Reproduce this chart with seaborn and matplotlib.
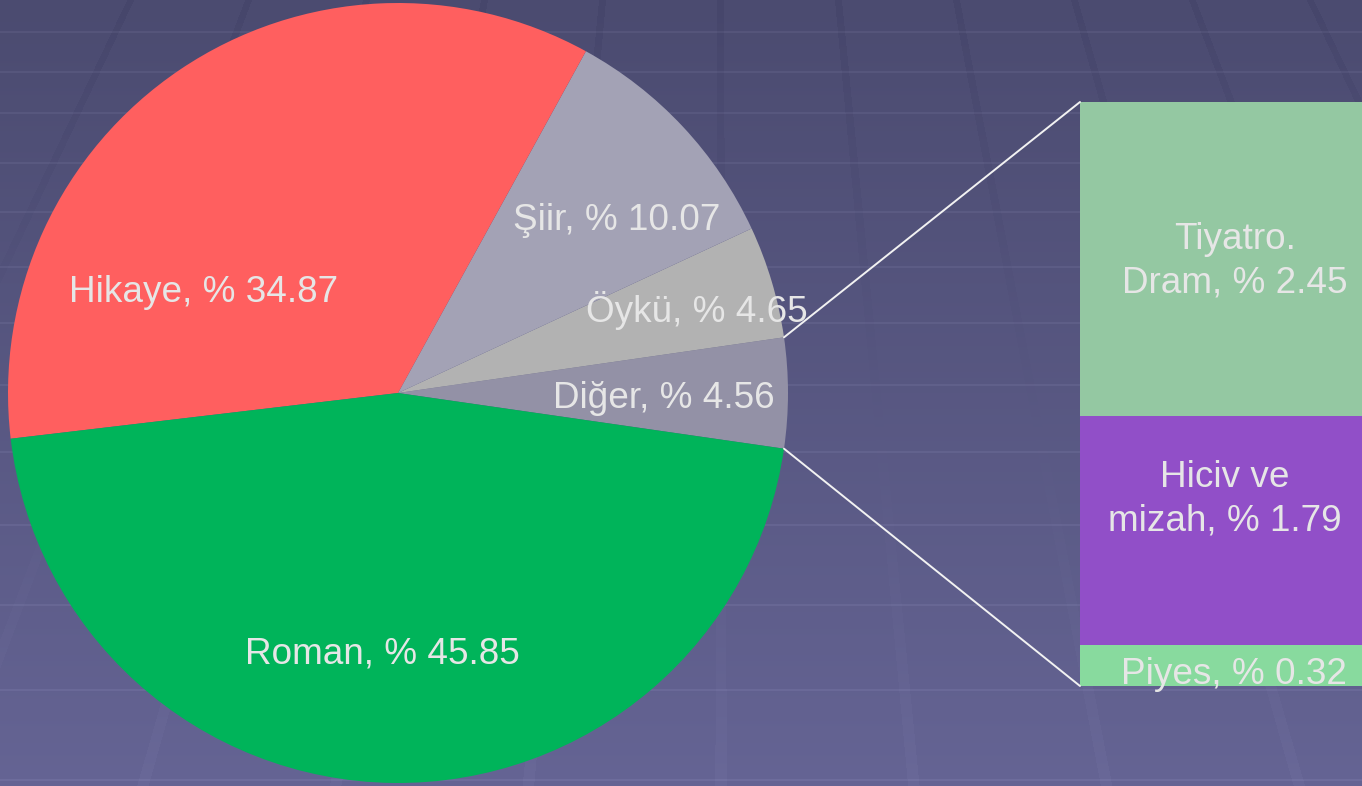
import numpy as np
import matplotlib
matplotlib.use("Agg")
import matplotlib.pyplot as plt
import seaborn as sns

# main pie (counter-clockwise from the right)
pie_names = ["Diğer", "Öykü", "Şiir", "Hikaye", "Roman"]
pie_values = [4.56, 4.65, 10.07, 34.87, 45.85]
pie_colors = ["#9391A6", "#B2B2B2", "#A3A2B5", "#FF5F5F", "#00B45A"]

# breakdown of "Diğer" (bottom to top)
bar_names = ["Piyes", "Hiciv ve\nmizah", "Tiyatro.\nDram"]
bar_values = [0.32, 1.79, 2.45]
bar_colors = ["#88DA9E", "#914FC8", "#94C8A2"]

sns.set_style("white")
plt.rcParams["font.family"] = ["Liberation Sans", "DejaVu Sans"]

W, H = 1362, 786
fig = plt.figure(figsize=(W / 100, H / 100), dpi=100)
ax = fig.add_axes([0, 0, 1, 1])

# background: gradient with a faint perspective grid
yy = np.arange(H)[:, None].astype(float)
xx = np.arange(W)[None, :].astype(float)
top = np.array([75, 75, 112], float)
bot = np.array([101, 100, 148], float)
t = (yy / H)[..., None]
bg = top * (1 - t) + bot * t
bg = np.broadcast_to(bg, (H, W, 3)).copy()
for yh in [32, 72, 113, 163, 212, 267, 323, 385, 452, 525, 605, 690, 780]:
    bg[yh - 1:yh + 1] += 9
vx, vy = 719.0, -1240.0
for x0 in np.arange(130, 1400, 118):
    xc = vx + (x0 - vx) * (yy - vy) / (-vy)
    half = 3.5 * (yy - vy) / (-vy)
    mask = np.abs(xx - xc) < half
    delta = -5 + 9 * yy / H
    bg += (mask * delta)[..., None]
bg = np.clip(bg, 0, 255) / 255
ax.imshow(bg, extent=(0, W, 0, H), origin="upper", aspect="auto", zorder=0)

# pie
cx, cy, R = 398, 393, 390
start = -pie_values[0] / 2 * 3.6
ax.pie(pie_values, colors=pie_colors, center=(cx, cy), radius=R,
       startangle=start, counterclock=True,
       wedgeprops=dict(linewidth=0))

txt = dict(color="#E6E6E6", fontsize=26.6, ha="center", va="center")
pie_label_pos = [(664, 398), (697, 310), (617, 221), (204, 293), (382, 654)]
for name, v, (px, py) in zip(pie_names, pie_values, pie_label_pos):
    ax.text(px, H - py, f"{name}, % {v:.2f}", zorder=5, **txt)

# stacked bar for the "Diğer" slice
bar_x, bar_w = 1235, 310
bar_top, bar_h = H - 102, 584
scale = bar_h / sum(bar_values)
bottoms = bar_top - bar_h + scale * np.concatenate([[0], np.cumsum(bar_values)[:-1]])
ax.bar([bar_x] * len(bar_values), np.array(bar_values) * scale, width=bar_w,
       bottom=bottoms, color=bar_colors, linewidth=0, zorder=3)

bar_label_pos = [(1234, 675), (1225, 499), (1235, 261)]
for name, v, (px, py) in zip(bar_names, bar_values, bar_label_pos):
    ax.text(px, H - py, f"{name}, % {v:.2f}", linespacing=1.3, zorder=5, **txt)

# connector lines
a = np.deg2rad(pie_values[0] / 2 * 3.6)
ex = cx + R * np.cos(a)
ax.plot([ex, bar_x - bar_w / 2], [cy + R * np.sin(a), bar_top],
        color="#F2F2F2", lw=1.4, zorder=4)
ax.plot([ex, bar_x - bar_w / 2], [cy - R * np.sin(a), bar_top - bar_h],
        color="#F2F2F2", lw=1.4, zorder=4)

ax.set_xlim(0, W)
ax.set_ylim(0, H)
ax.axis("off")

fig.savefig("out.png", dpi=100)
